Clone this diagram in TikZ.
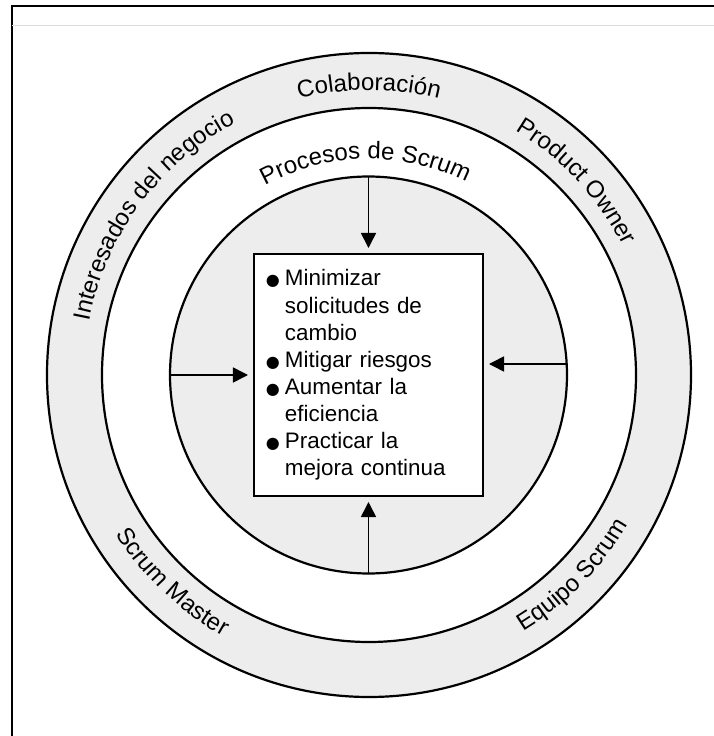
\documentclass[tikz,border=0pt]{standalone}
\usepackage{fontspec}
\setmainfont{Liberation Sans}
\newfontfamily\symfont{DejaVu Sans}
\usetikzlibrary{arrows.meta,decorations.text}

\definecolor{ringgray}{RGB}{236,237,236}
\definecolor{rulegray}{RGB}{221,221,221}
\newcommand{\ringfont}{\fontsize{24}{24}\selectfont}
\newcommand{\boxfont}{\fontsize{22.4}{27.1}\selectfont}
\newcommand{\bul}{\makebox[19pt][l]{{\symfont\fontsize{16}{16}\selectfont ●}}}
\newcommand{\cont}{\makebox[19pt]{}}

\begin{document}
\begin{tikzpicture}[x=1pt,y=1pt,
every node/.style={inner sep=0pt, outer sep=0pt},
ring/.style={circle, draw, line width=2.2pt},
listbox/.style={draw, line width=2pt, fill=white, minimum width=229pt,
    minimum height=242pt, text width=205pt, inner xsep=12pt, align=left, font=\boxfont},
flow/.style={line width=1.6pt, -{Triangle[length=15pt,width=15pt]}, shorten >=6pt}
]
\useasboundingbox (-369,-361) rectangle (345,375);
\clip (-369,-361) rectangle (345,375);

% frame
\draw[line width=2.2pt] (-357,369) rectangle (400,-400);
\draw[rulegray, line width=1pt] (-357,349) -- (345,349);

% rings
\node[ring, fill=ringgray, minimum size=644pt] (outer) at (0,0) {};
\node[ring, fill=white, minimum size=534pt] (middle) at (0,0) {};
\node[ring, fill=ringgray, minimum size=397pt] (proc) at (-0.5,0) {};

% goals
\node[listbox] (goals) at (-0.5,0) {%
\bul Minimizar\\
\cont solicitudes de\\
\cont cambio\\
\bul Mitigar riesgos\\
\bul Aumentar la\\
\cont eficiencia\\
\bul Practicar la\\
\cont mejora continua};

\foreach \a in {north,south,west}
    \draw[flow] (proc.\a) -- (goals.\a);
\draw[flow] ([yshift=11pt]proc.east) -- ([yshift=11pt]goals.east);

% labels on the upper half
\foreach \ang/\rad/\txt in {90/285/Colaboración, 143.5/285/Interesados del negocio,
                            43/285/Product Owner, 91/216/Procesos de Scrum}
    \path[decorate, decoration={text along path, text align=center,
        text/.expanded={|\noexpand\ringfont|\txt}}]
        (\ang+45:\rad) arc[start angle=\ang+45, end angle=\ang-45, radius=\rad];

% labels on the lower half
\foreach \ang/\txt in {226.5/Scrum Master, 315.5/Equipo Scrum}
    \path[decorate, decoration={text along path, text align=center,
        text/.expanded={|\noexpand\ringfont|\txt}}]
        (\ang-45:299) arc[start angle=\ang-45, end angle=\ang+45, radius=299];
\end{tikzpicture}
\end{document}
